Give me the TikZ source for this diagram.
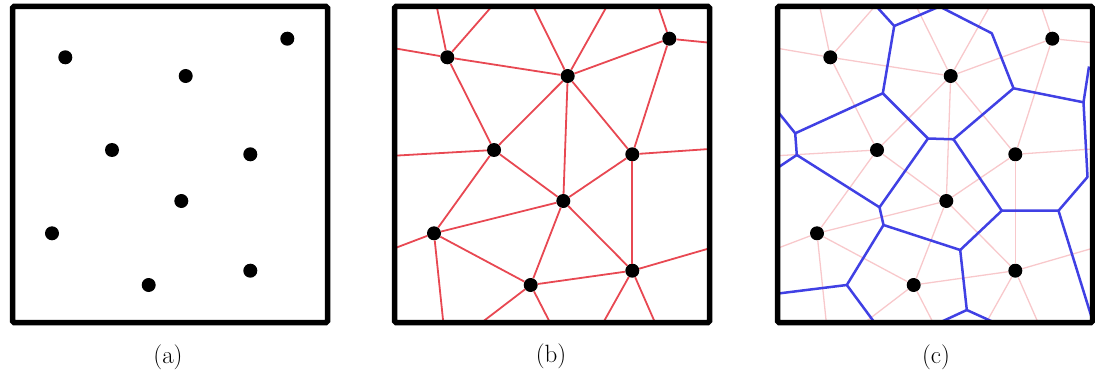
\documentclass[tikz,border=0pt]{standalone}
\usepackage{tikz}
\usetikzlibrary{positioning}
\definecolor{edgered}{RGB}{232,72,82}
\definecolor{cellblue}{RGB}{64,64,228}

% site positions inside a panel (from the top left corner)
\newcommand{\sites}{1/52.8/50.8, 2/173.2/69.5, 3/274.8/32.2, 4/99.5/143.5, 5/237.8/147.8,
  6/168.8/194.5, 7/39.5/226.8, 8/237.8/264.2, 9/136.2/278.5}
% where the outer edges leave the panel
\newcommand{\borders}{t1/42.2/0, t2/97.2/0, t3/138.8/0, t4/212.2/0, t5/263.8/0,
  r1/315/36.2, r2/315/142.5, r3/315/241.8, l1/0/41.8, l2/0/149.2, l3/0/241.8,
  b1/48.8/316, b2/87.2/316, b3/155.5/316, b4/208.8/316, b5/260.5/316}

\begin{document}
\begin{tikzpicture}[
    x=1pt, y=-1pt,
    site/.style={circle, fill=black, inner sep=0pt, minimum size=14pt},
    panel/.style={draw=black, line width=5.5pt, rounded corners=1.5pt},
    delaunay/.style={edgered, line width=1.8pt},
    faded/.style={edgered!30, line width=1.3pt},
    voronoi/.style={cellblue, line width=2.5pt, line join=round},
    caption/.style={font=\fontsize{25}{29}\selectfont}
]
\useasboundingbox (0,0) rectangle (1095,385);

% Panels and sites
\foreach \p/\dx in {a/12.5, b/394.5, c/777.5} {
  \coordinate (\p-nw) at (\dx, 6.5);
  \coordinate (\p-se) at (\dx+315, 322.5);
  \foreach \n/\x/\y in \borders
    \coordinate (\p-\n) at (\dx+\x, 6.5+\y);
  \foreach \i/\x/\y in \sites
    \node[site] (\p\i) at (\dx+\x, 6.5+\y) {};
}

% Delaunay triangulation
\foreach \p/\s in {b/delaunay, c/faded} {
  \begin{scope}
    \clip (\p-nw) rectangle (\p-se);
    \foreach \u/\v in {1/2, 1/4, 2/3, 2/4, 2/5, 2/6, 3/5, 4/6, 4/7, 5/6, 5/8, 6/7, 6/8, 6/9, 7/9, 8/9}
      \draw[\s] (\p\u) -- (\p\v);
    \foreach \u/\v in {1/t1, 1/t2, 1/l1, 2/t3, 2/t4, 3/t5, 3/r1, 4/l2, 5/r2, 7/l3, 7/b1, 9/b2, 9/b3, 8/b4, 8/b5, 8/r3}
      \draw[\s] (\p\u) -- (\p-\v);
  \end{scope}
}

% Voronoi vertices
\begin{scope}[shift={(777.5,6.5)}]
  \coordinate (vta) at (99,0);
  \coordinate (v1) at (116.7,19.5);
  \coordinate (vtm) at (162,0);
  \coordinate (v7) at (214.3,26.8);
  \coordinate (v2) at (105.3,86.8);
  \coordinate (v3) at (17.7,126.8);
  \coordinate (vl1) at (0,104.8);
  \coordinate (v5) at (19.3,148.5);
  \coordinate (vl2) at (0,161.4);
  \coordinate (v15) at (102,200.8);
  \coordinate (v16) at (106,218.5);
  \coordinate (v4a) at (150.5,132);
  \coordinate (v4b) at (176,132.8);
  \coordinate (v8) at (236,81.8);
  \coordinate (v9) at (306,95.8);
  \coordinate (vr1) at (311.5,60);
  \coordinate (vr2) at (310,170.5);
  \coordinate (v11) at (281,204.2);
  \coordinate (v12) at (224.3,204.2);
  \coordinate (v10) at (182.7,243.5);
  \coordinate (v14) at (189.3,303.5);
  \coordinate (v17) at (69.3,278.5);
  \coordinate (vb1) at (162.3,316);
  \coordinate (vb2) at (216.8,316);
  \coordinate (vb3) at (97,316);
  \coordinate (vl3) at (0,287.1);
  \coordinate (vr3) at (315,313.7);
\end{scope}

% Voronoi cells
\begin{scope}
  \clip (c-nw) rectangle (c-se);
  \draw[voronoi] (vta) -- (v1) -- (vtm) -- (v7) -- (v8) -- (v9);
  \draw[voronoi] (v1) -- (v2) -- (v3) -- (vl1);
  \draw[voronoi] (v2) -- (v4a) -- (v4b) -- (v8);
  \draw[voronoi] (v3) -- (v5) -- (vl2);
  \draw[voronoi] (v5) -- (v15) -- (v4a);
  \draw[voronoi] (v15) -- (v16) -- (v17) -- (vl3);
  \draw[voronoi] (v17) -- (vb3);
  \draw[voronoi] (v16) -- (v10) -- (v14) -- (vb1);
  \draw[voronoi] (v14) -- (vb2);
  \draw[voronoi] (v10) -- (v12) -- (v4b);
  \draw[voronoi] (v12) -- (v11) -- (vr3);
  \draw[voronoi] (vr1) -- (v9) -- (vr2) -- (v11);
\end{scope}

% Frames
\foreach \p in {a, b, c}
  \draw[panel] (\p-nw) rectangle (\p-se);

% Captions
\node[caption] (capa) at (168,357) {(a)};
\node[caption] (capb) at (551,356) {(b)};
\node[caption] (capc) at (936,357) {(c)};

\end{tikzpicture}
\end{document}
